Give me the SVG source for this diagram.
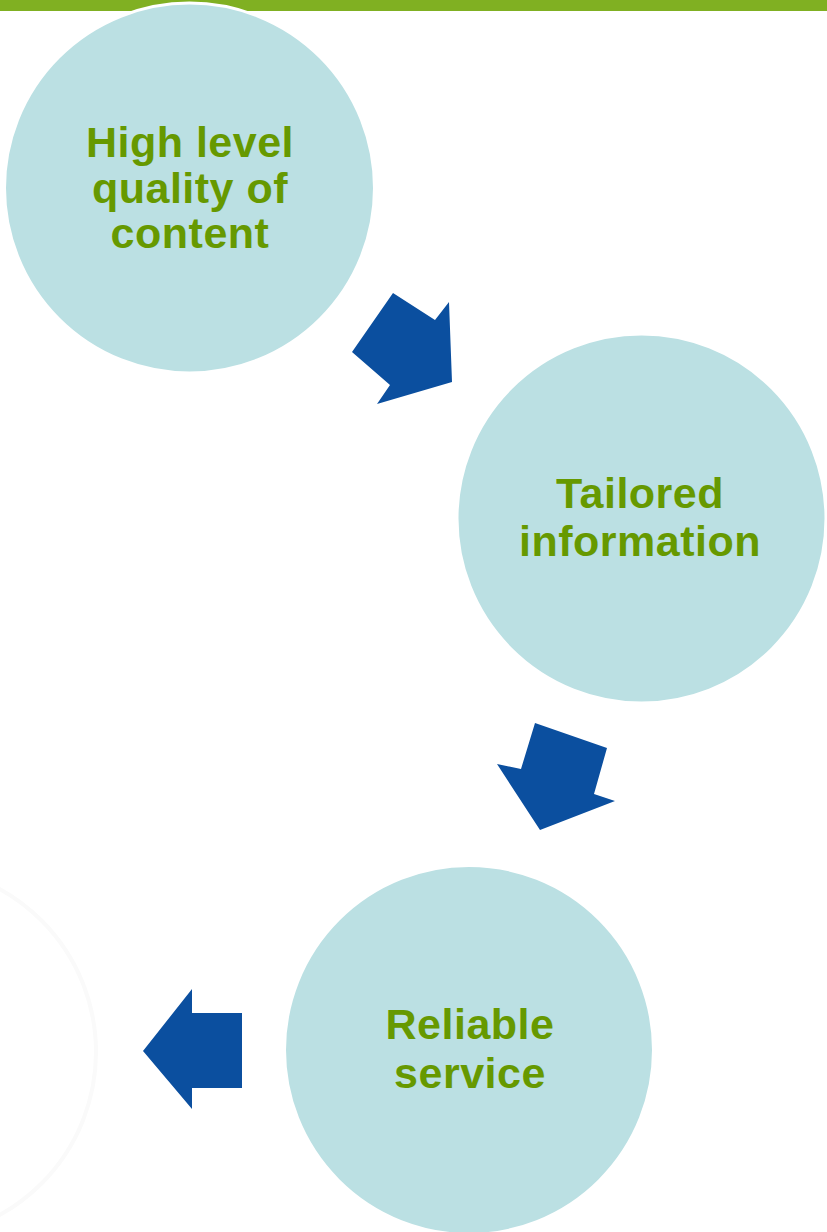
<svg xmlns="http://www.w3.org/2000/svg" width="827" height="1232" viewBox="0 0 827 1232">
<style>
.c{fill:#bbe0e3;stroke:#ffffff;stroke-width:3}
.t{font-family:"Liberation Sans",Arial,sans-serif;font-weight:bold;font-size:43px;fill:#669900;text-anchor:middle;letter-spacing:0.5px}
.a{fill:#0b4f9f}
</style>
<rect x="0" y="0" width="827" height="11" fill="#80b022"/>
<g id="node-ghost">
<circle cx="-90" cy="1052" r="186" fill="none" stroke="#fafafa" stroke-width="4"/>
</g>
<g id="node-quality">
<circle class="c" cx="189.5" cy="188" r="185"/>
<text class="t" x="190" y="157">High level</text>
<text class="t" x="190" y="203">quality of</text>
<text class="t" x="190" y="248">content</text>
</g>
<g id="node-tailored">
<circle class="c" cx="641.5" cy="518.5" r="184.5"/>
<text class="t" x="640" y="508">Tailored</text>
<text class="t" x="640" y="556">information</text>
</g>
<g id="node-reliable">
<circle class="c" cx="469" cy="1050" r="184.5"/>
<text class="t" x="470" y="1039">Reliable</text>
<text class="t" x="470" y="1088">service</text>
</g>
<g id="connectors">
<polygon class="a" points="393,293 435,320 449,302 452,382 377,404 390,385 352,352"/>
<polygon class="a" points="535,723 607,748 594,794 615,801 540,830 497,764 521,769"/>
<polygon class="a" points="192,989 192,1013 242,1013 242,1088 192,1088 192,1109 143,1051"/>
</g>
</svg>
